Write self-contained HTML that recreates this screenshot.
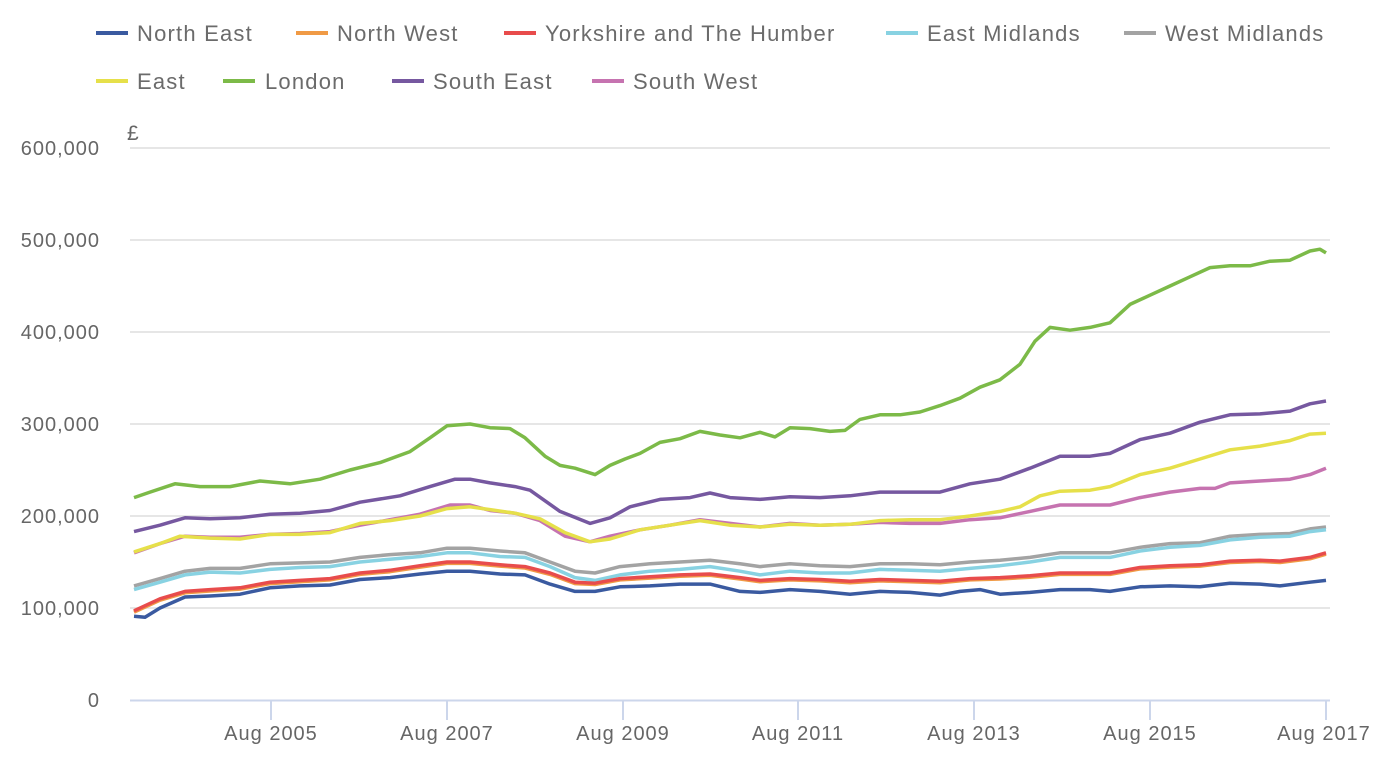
<!DOCTYPE html>
<html><head><meta charset="utf-8"><style>
body{margin:0;background:#fff;}
svg{display:block;font-family:"Liberation Sans",sans-serif;}
</style></head><body>
<svg id="s" width="1390" height="774" viewBox="0 0 1390 774">
<g fill="#666" font-size="20" text-anchor="end" letter-spacing="1">
<text x="100" y="155">600,000</text><text x="100" y="247">500,000</text><text x="100" y="339">400,000</text>
<text x="100" y="431">300,000</text><text x="100" y="523">200,000</text><text x="100" y="615">100,000</text><text x="100" y="707">0</text>
</g>
<text x="127" y="140" fill="#666" font-size="21">£</text>
<g stroke="#e6e6e6" stroke-width="2">
<line x1="130" x2="1330" y1="148" y2="148"/><line x1="130" x2="1330" y1="240" y2="240"/><line x1="130" x2="1330" y1="332" y2="332"/>
<line x1="130" x2="1330" y1="424" y2="424"/><line x1="130" x2="1330" y1="516" y2="516"/><line x1="130" x2="1330" y1="608" y2="608"/>
</g>
<line x1="130" x2="1330" y1="700.5" y2="700.5" stroke="#ccd6eb" stroke-width="2"/>
<g stroke="#ccd6eb" stroke-width="2">
<line x1="271" x2="271" y1="700" y2="720"/><line x1="447" x2="447" y1="700" y2="720"/><line x1="623" x2="623" y1="700" y2="720"/>
<line x1="798" x2="798" y1="700" y2="720"/><line x1="974" x2="974" y1="700" y2="720"/><line x1="1150" x2="1150" y1="700" y2="720"/><line x1="1326" x2="1326" y1="700" y2="720"/>
</g>
<g fill="#666" font-size="20" text-anchor="middle" letter-spacing="1">
<text x="271" y="740">Aug 2005</text><text x="447" y="740">Aug 2007</text><text x="623" y="740">Aug 2009</text>
<text x="798" y="740">Aug 2011</text><text x="974" y="740">Aug 2013</text><text x="1150" y="740">Aug 2015</text><text x="1324" y="740">Aug 2017</text>
</g>
<g font-size="22" fill="#6b6b6b" letter-spacing="1.2">
<rect x="96" y="31" width="32" height="4" fill="#3a5aa0"/><text x="137" y="41">North East</text>
<rect x="296" y="31" width="32" height="4" fill="#f09a45"/><text x="337" y="41">North West</text>
<rect x="504" y="31" width="32" height="4" fill="#e84c4c"/><text x="545" y="41">Yorkshire and The Humber</text>
<rect x="886" y="31" width="32" height="4" fill="#88d2e2"/><text x="927" y="41">East Midlands</text>
<rect x="1124" y="31" width="32" height="4" fill="#a3a3a3"/><text x="1165" y="41">West Midlands</text>
<rect x="96" y="79" width="32" height="4" fill="#e6e04a"/><text x="137" y="89">East</text>
<rect x="223" y="79" width="32" height="4" fill="#7cba48"/><text x="265" y="89">London</text>
<rect x="392" y="79" width="32" height="4" fill="#7658a0"/><text x="433" y="89">South East</text>
<rect x="592" y="79" width="32" height="4" fill="#c673b0"/><text x="633" y="89">South West</text>
</g>
<g id="lines" fill="none" stroke-width="3.5" stroke-linejoin="round"></g>
</svg>
<script>
const S=[
["#a3a3a3",[[134,124],[160,132],[185,140],[210,143],[240,143],[270,148],[300,149],[330,150],[360,155],[390,158],[420,160],[447,165],[470,165],[500,162],[525,160],[550,150],[575,140],[595,138],[620,145],[650,148],[680,150],[710,152],[740,148],[760,145],[790,148],[820,146],[850,145],[880,148],[910,148],[940,147],[970,150],[1000,152],[1030,155],[1060,160],[1090,160],[1110,160],[1140,166],[1170,170],[1200,171],[1230,178],[1260,180],[1290,181],[1310,186],[1326,188]]],
["#88d2e2",[[134,120],[160,128],[185,136],[210,139],[240,138],[270,142],[300,144],[330,145],[360,150],[390,153],[420,156],[447,160],[470,160],[500,156],[525,155],[550,145],[575,133],[595,130],[620,136],[650,140],[680,142],[710,145],[740,140],[760,136],[790,140],[820,138],[850,138],[880,142],[910,141],[940,140],[970,143],[1000,146],[1030,150],[1060,155],[1090,155],[1110,155],[1140,162],[1170,166],[1200,168],[1230,174],[1260,177],[1290,178],[1310,183],[1326,185]]],
["#f09a45",null],
["#e84c4c",[[134,97],[160,110],[185,118],[210,120],[240,122],[270,128],[300,130],[330,132],[360,138],[390,141],[420,146],[447,150],[470,150],[500,147],[525,145],[550,138],[575,128],[595,127],[620,132],[650,134],[680,136],[710,137],[740,133],[760,130],[790,132],[820,131],[850,129],[880,131],[910,130],[940,129],[970,132],[1000,133],[1030,135],[1060,138],[1090,138],[1110,138],[1140,144],[1170,146],[1200,147],[1230,151],[1260,152],[1280,151],[1310,155],[1326,160]]],
["#3a5aa0",[[134,91],[145,90],[160,100],[185,112],[210,113],[240,115],[270,122],[300,124],[330,125],[360,131],[390,133],[420,137],[447,140],[470,140],[500,137],[525,136],[550,126],[575,118],[595,118],[620,123],[650,124],[680,126],[710,126],[740,118],[760,117],[790,120],[820,118],[850,115],[880,118],[910,117],[940,114],[960,118],[980,120],[1000,115],[1030,117],[1060,120],[1090,120],[1110,118],[1140,123],[1170,124],[1200,123],[1230,127],[1260,126],[1280,124],[1310,128],[1326,130]]],
["#c673b0",[[134,160],[160,170],[185,178],[210,177],[240,177],[270,180],[300,181],[330,183],[360,190],[390,196],[420,202],[450,212],[470,212],[490,206],[515,203],[540,195],[565,178],[590,172],[610,178],[640,185],[670,190],[700,196],[730,192],[760,188],[790,192],[820,190],[850,191],[880,193],[910,192],[940,192],[970,196],[1000,198],[1030,205],[1060,212],[1090,212],[1110,212],[1140,220],[1170,226],[1200,230],[1215,230],[1230,236],[1260,238],[1290,240],[1310,245],[1326,252]]],
["#e6e04a",[[134,161],[160,170],[180,178],[210,176],[240,175],[270,180],[300,180],[330,182],[360,192],[390,195],[420,200],[447,208],[470,210],[490,207],[515,203],[540,197],[565,182],[590,172],[610,175],[640,185],[670,190],[700,195],[730,190],[760,188],[790,191],[820,190],[850,191],[880,195],[910,196],[940,196],[970,200],[1000,205],[1020,210],[1040,222],[1060,227],[1090,228],[1110,232],[1140,245],[1170,252],[1200,262],[1230,272],[1260,276],[1290,282],[1310,289],[1326,290]]],
["#7658a0",[[134,183],[160,190],[185,198],[210,197],[240,198],[270,202],[300,203],[330,206],[360,215],[400,222],[430,232],[455,240],[470,240],[490,236],[515,232],[530,228],[560,205],[590,192],[610,198],[630,210],[660,218],[690,220],[710,225],[730,220],[760,218],[790,221],[820,220],[850,222],[880,226],[910,226],[940,226],[970,235],[1000,240],[1030,252],[1060,265],[1090,265],[1110,268],[1140,283],[1170,290],[1200,302],[1230,310],[1260,311],[1290,314],[1310,322],[1326,325]]],
["#7cba48",[[134,220],[150,226],[175,235],[200,232],[230,232],[260,238],[290,235],[320,240],[350,250],[380,258],[410,270],[430,285],[447,298],[470,300],[490,296],[510,295],[525,285],[545,265],[560,255],[575,252],[595,245],[610,255],[625,262],[640,268],[660,280],[680,284],[700,292],[720,288],[740,285],[760,291],[775,286],[790,296],[810,295],[830,292],[845,293],[860,305],[880,310],[900,310],[920,313],[940,320],[960,328],[980,340],[1000,348],[1020,365],[1035,390],[1050,405],[1070,402],[1090,405],[1110,410],[1130,430],[1150,440],[1170,450],[1190,460],[1210,470],[1230,472],[1250,472],[1270,477],[1290,478],[1310,488],[1320,490],[1326,486]]]
];
S[2][1]=S[3][1].map(p=>[p[0],p[1]-1.5]);
const g=document.getElementById('lines');
S.forEach(([c,pts])=>{
 const d=pts.map((p,i)=>(i?'L':'M')+p[0]+' '+(700-p[1]*0.92).toFixed(1)).join(' ');
 const e=document.createElementNS('http://www.w3.org/2000/svg','path');
 e.setAttribute('d',d);e.setAttribute('stroke',c);g.appendChild(e);
});
</script>
</body></html>
